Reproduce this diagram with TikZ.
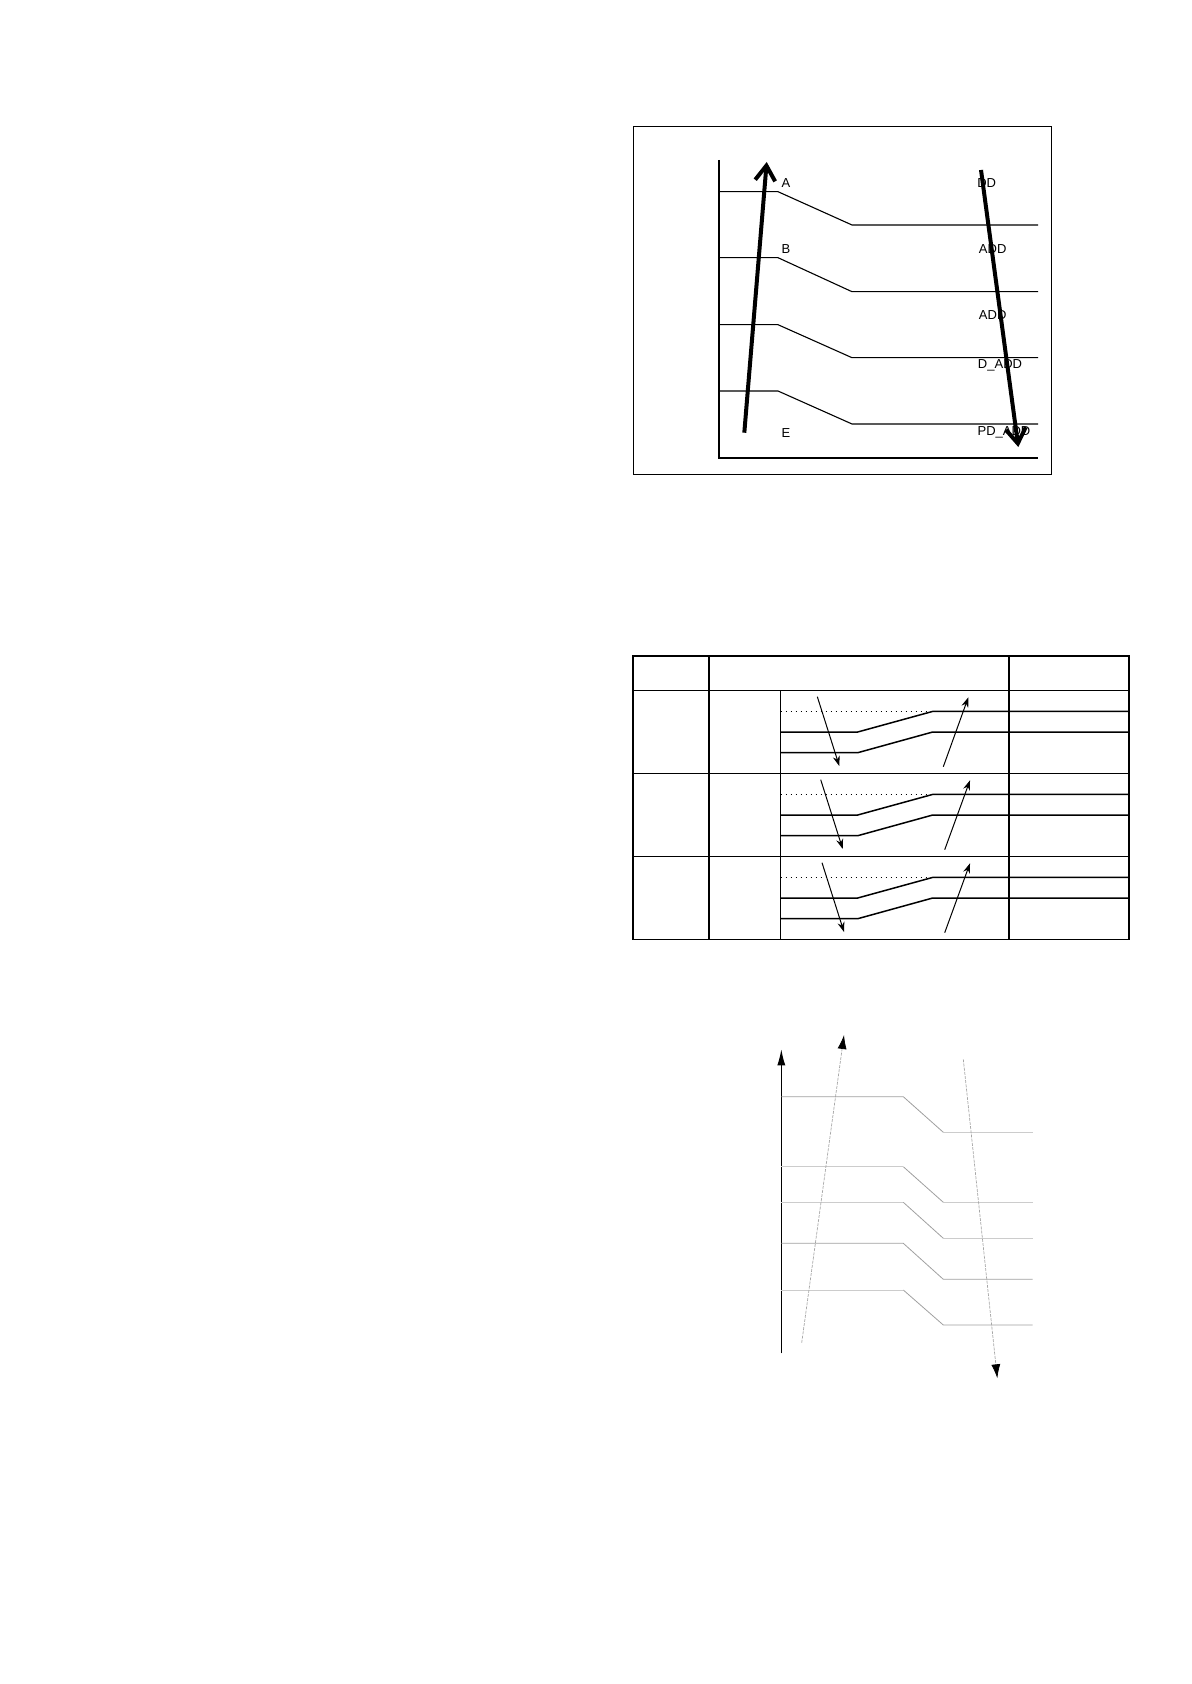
\documentclass[tikz,border=0pt]{standalone}
\usepackage{fontspec}
\setmainfont{Liberation Sans}
\usetikzlibrary{arrows.meta, calc}

\begin{document}
\begin{tikzpicture}[x=0.5pt,y=-0.5pt,
	lbl/.style={inner sep=0pt,font=\fontsize{6.5}{7.8}\selectfont},
	level/.style={line width=0.55pt},
	bigarrow/.style={line width=2pt,-{Straight Barb[length=7.5pt,width=10pt,line width=2pt]}},
	tbl/.style={line width=0.75pt},
	tarrow/.style={line width=0.5pt,-{Stealth[length=5pt,width=3.5pt]}},
	midline/.style={line width=0.4pt,gray!75},
	lightline/.style={line width=0.4pt,gray!40},
	grayarrow/.style={line width=0.35pt,gray!70,dash pattern=on 1.5pt off 0.6pt,-{Latex[length=7pt,width=4.5pt,black]}}]
	
	\useasboundingbox (0,0) rectangle (1191,1684);
	
	% top diagram
	\draw[line width=0.5pt] (633,127) rectangle (1051,474);
	\draw[line width=0.9pt] (719,160) -- (719,458) -- (1038,458);
	\foreach \ya/\yb in {191.7/225, 257.7/291.7, 324.7/357.7, 391/424}
		\draw[level] (719,\ya) -- (778,\ya) -- (852,\yb) -- (1038,\yb);
	\coordinate (upS) at (744.3,432.7);
	\coordinate (upE) at (766.7,162);
	\coordinate (dnS) at (981,170);
	\coordinate (dnE) at (1018.3,447);
	\draw[bigarrow] (upS) -- (upE);
	\draw[bigarrow] (dnS) -- (dnE);
	\node[lbl] (A) at (786,183.3) {A};
	\node[lbl] (B) at (786,249.3) {B};
	\node[lbl] (E) at (786,432.7) {E};
	\node[lbl] (DD) at (986.7,183.3) {DD};
	\node[lbl] (ADDa) at (992.7,249.3) {ADD};
	\node[lbl] (ADDb) at (992.7,315) {ADD};
	\node[lbl] (DADD) at (1000,365.7) {D\_ADD};
	\node[lbl] (PDADD) at (1004,432.7) {PD\_ADD};
	
	% table
	\draw[tbl] (633,656) rectangle (1129,939.3);
	\draw[tbl] (633,690.7) -- (1129,690.7);
	\draw[tbl] (633,773.7) -- (1129,773.7);
	\draw[tbl] (633,856.7) -- (1129,856.7);
	\draw[tbl] (709,656) -- (709,939.3);
	\draw[tbl] (1009,656) -- (1009,939.3);
	\draw[tbl] (780.7,690.7) -- (780.7,939.3);
	\foreach \r/\dx/\dy/\ux/\uy in {0/817.3/839.3/943.3/968.3, 1/820.7/842.7/944.7/970, 2/822/844/944.7/970}{
		\pgfmathsetmacro{\t}{690.7+83*\r}
		\draw[line width=0.5pt,dotted] (780.7,\t+20.7) -- (932.7,\t+20.7);
		\draw[tbl] (780.7,\t+41.3) -- (857.7,\t+41.3) -- (932.7,\t+20.7) -- (1129,\t+20.7);
		\draw[tbl] (780.7,\t+62) -- (857.7,\t+62) -- (932.7,\t+41.3) -- (1129,\t+41.3);
		\draw[tarrow] (\dx,\t+6) -- (\dy,\t+75.3);
		\draw[tarrow] (\ux,\t+76) -- (\uy,\t+6.6);
	}
	
	% bottom diagram
	\draw[line width=0.5pt,-{Latex[length=8pt,width=4pt]}] (781.3,1353.3) -- (781.3,1049.3);
	\draw[midline] (781.3,1096.7) -- (903.3,1096.7) -- (943.3,1132.3);
	\draw[lightline] (943.3,1132.3) -- (1032.7,1132.3);
	\draw[lightline] (781.3,1166.7) -- (903.3,1166.7);
	\draw[midline] (903.3,1166.7) -- (943.3,1202.3);
	\draw[lightline] (943.3,1202.3) -- (1032.7,1202.3);
	\draw[lightline] (781.3,1202.3) -- (903.3,1202.3);
	\draw[midline] (903.3,1202.3) -- (943.3,1238.3);
	\draw[lightline] (943.3,1238.3) -- (1032.7,1238.3);
	\draw[midline] (781.3,1243.3) -- (903.3,1243.3) -- (943.3,1279.3) -- (1032.7,1279.3);
	\draw[lightline] (781.3,1290) -- (903.3,1290);
	\draw[midline] (903.3,1290) -- (943.3,1325) -- (1032.7,1325);
	\coordinate (gupS) at (801.7,1342.7);
	\coordinate (gupE) at (844,1035);
	\coordinate (gdnS) at (963.3,1059.3);
	\coordinate (gdnE) at (997.3,1378.3);
	\draw[grayarrow] (gupS) -- (gupE);
	\draw[grayarrow] (gdnS) -- (gdnE);
	
\end{tikzpicture}
\end{document}
